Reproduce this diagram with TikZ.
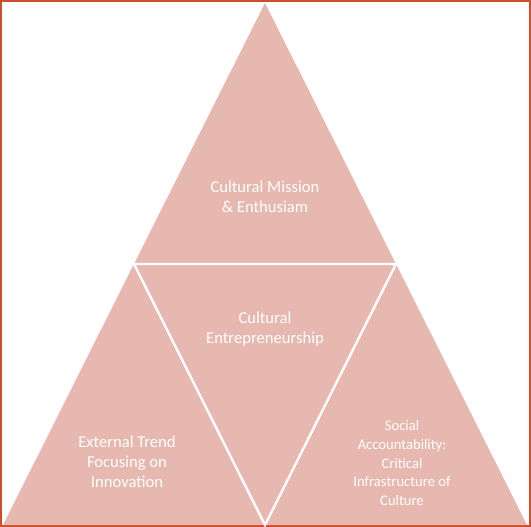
\documentclass[tikz,border=0pt]{standalone}
\usepackage{fontspec}
\setmainfont{Carlito}
\definecolor{pyrfill}{RGB}{230,184,175}
\definecolor{frameorange}{RGB}{204,78,44}
\tikzset{
  label/.style={text=white,align=center,font=\fontsize{16.6}{19.8}\selectfont},
  smalllabel/.style={label,font=\fontsize{14.6}{18.8}\selectfont}
}

\begin{document}
\begin{tikzpicture}[x=1pt,y=-1pt]
  \useasboundingbox (0,0) rectangle (531,527);
  % frame
  \draw[frameorange,line width=1.6pt] (0.8,0.8) rectangle (530.2,526.2);

  % pyramid and inner triangle
  \coordinate (top) at (265,3);
  \coordinate (bl) at (3,525);
  \coordinate (br) at (527,525);
  \coordinate (ml) at (134,264);
  \coordinate (mr) at (396,264);
  \coordinate (mb) at (265,525);
  \path[fill=pyrfill] (top) -- (br) -- (bl) -- cycle;
  \draw[white,line width=2.4pt,line join=miter] (ml) -- (mr) -- (mb) -- cycle;

  % texts
  \node[label] (mission) at (265,197) {Cultural Mission\\\& Enthusiam};
  \node[label] (entre) at (265,329) {Cultural\\Entrepreneurship};
  \node[label] (trend) at (127,462) {External Trend\\Focusing on\\Innovation};
  \node[smalllabel] (social) at (402,463) {Social\\Accountability:\\Critical\\Infrastructure of\\Culture};
\end{tikzpicture}
\end{document}
